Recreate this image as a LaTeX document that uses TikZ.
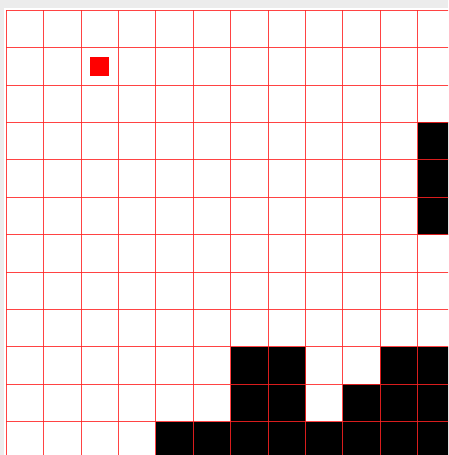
\documentclass[tikz,border=0pt]{standalone}
\usepackage{xcolor}
\usepackage{tikz}
\definecolor{gridred}{RGB}{255,35,35}
\definecolor{bggray}{RGB}{236,236,236}
\tikzset{
  % celle occupate
  cell/.style={fill=black},
  % linee della griglia
  gridline/.style={gridred,line width=0.65pt,opacity=0.85},
  % marcatore
  marker/.style={fill=red}
}

\begin{document}
\begin{tikzpicture}[x=1cm,y=-1cm]
    \useasboundingbox (-0.168,-0.275) rectangle (11.81,11.89);
    \clip (-0.168,-0.275) rectangle (11.81,11.89);
    % sfondo
    \fill[bggray] (-0.168,-0.275) rectangle (11.81,11.89);
    \fill[white] (-0.061,-0.061) rectangle (11.81,11.89);
    % ostacoli
    \foreach \c/\r in {11/3,11/4,11/5,6/9,7/9,10/9,11/9,6/10,7/10,9/10,10/10,11/10}
      \fill[cell] (\c,\r) rectangle ++(1,1);
    \foreach \c in {4,...,11}
      \fill[cell] (\c,11) rectangle ++(1,1);
    % griglia
    \foreach \i in {0,...,12}{
      \draw[gridline] (\i,0)--(\i,12.2);
      \draw[gridline] (0,\i)--(12.2,\i);
    }
    % punto rosso
    \fill[marker] (2.25,1.25) rectangle (2.75,1.75);
  \end{tikzpicture}
\end{document}
